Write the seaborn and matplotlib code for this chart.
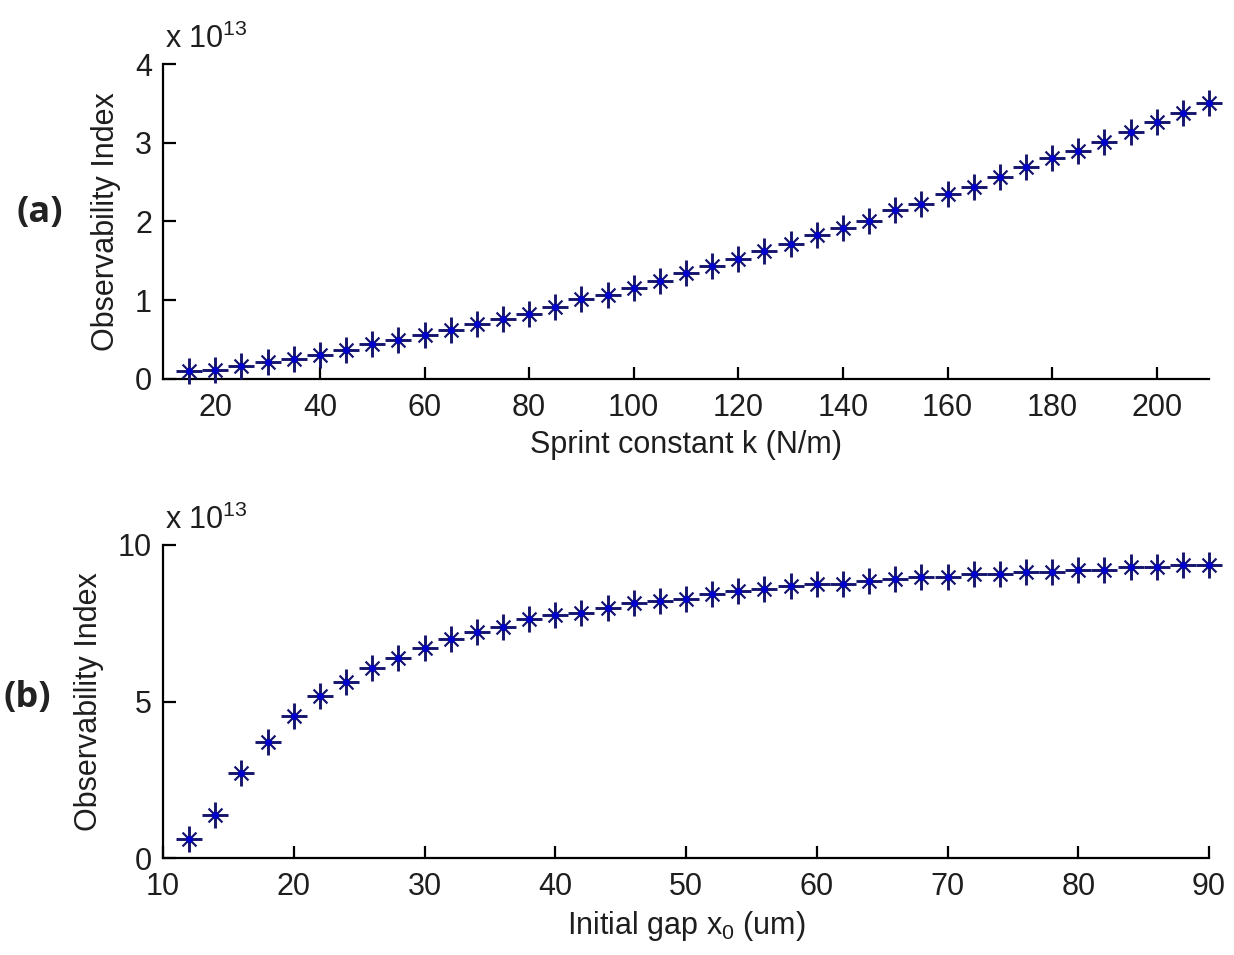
import numpy as np
import matplotlib
matplotlib.use("Agg")
import matplotlib.pyplot as plt
import seaborn as sns

# Panel (a): observability index vs spring constant (values in units of 1e13)
spring_k = [15, 20, 25, 30, 35, 40, 45, 50, 55, 60,
            65, 70, 75, 80, 85, 90, 95, 100, 105, 110,
            115, 120, 125, 130, 135, 140, 145, 150, 155, 160,
            165, 170, 175, 180, 185, 190, 195, 200, 205, 210]
index_k = [0.10, 0.12, 0.16, 0.22, 0.25, 0.31, 0.37, 0.44, 0.50, 0.56,
           0.62, 0.70, 0.76, 0.82, 0.92, 1.01, 1.07, 1.16, 1.25, 1.34,
           1.44, 1.53, 1.62, 1.71, 1.83, 1.92, 2.01, 2.14, 2.22, 2.35,
           2.44, 2.56, 2.69, 2.80, 2.90, 3.01, 3.14, 3.26, 3.38, 3.51]

# Panel (b): observability index vs initial gap (values in units of 1e13)
gap_x0 = [12, 14, 16, 18, 20, 22, 24, 26, 28, 30,
          32, 34, 36, 38, 40, 42, 44, 46, 48, 50,
          52, 54, 56, 58, 60, 62, 64, 66, 68, 70,
          72, 74, 76, 78, 80, 82, 84, 86, 88, 90]
index_gap = [0.60, 1.38, 2.73, 3.72, 4.55, 5.16, 5.63, 6.08, 6.38, 6.70,
             7.01, 7.23, 7.38, 7.62, 7.76, 7.83, 7.99, 8.15, 8.20, 8.29,
             8.43, 8.52, 8.60, 8.68, 8.75, 8.75, 8.84, 8.91, 8.97, 8.97,
             9.07, 9.07, 9.15, 9.15, 9.21, 9.21, 9.29, 9.29, 9.37, 9.37]

EXPONENT = 13
k_ticks = [20, 40, 60, 80, 100, 120, 140, 160, 180, 200]
gap_ticks = [10, 20, 30, 40, 50, 60, 70, 80, 90]

sns.set_style("ticks")
plt.rcParams["font.family"] = ["Liberation Sans", "DejaVu Sans"]
plt.rcParams["mathtext.fontset"] = "custom"
plt.rcParams["mathtext.rm"] = "Liberation Sans"
plt.rcParams["mathtext.it"] = "Liberation Sans"

TEXT = "#1e1e1e"
STAR = "#15156e"
DOT = "#0000cc"
FS = 22

fig = plt.figure(figsize=(12.34, 9.55), dpi=100)
W, H = 1234, 955
ax1 = fig.add_axes([163 / W, 1 - 379 / H, (1209 - 163) / W, (379 - 64) / H])
ax2 = fig.add_axes([163 / W, 1 - 858 / H, (1209 - 163) / W, (858 - 545) / H])


def asterisks(ax, x, y):
    # MATLAB-style '*' marker built from a plus, a cross and a centre dot
    sns.scatterplot(x=x, y=y, ax=ax, marker="+", s=19 ** 2, color=STAR,
                    linewidth=2.1, zorder=3, legend=False, clip_on=False)
    sns.scatterplot(x=x, y=y, ax=ax, marker="x", s=10 ** 2, color=STAR,
                    linewidth=1.6, zorder=3, legend=False, clip_on=False)
    sns.scatterplot(x=x, y=y, ax=ax, marker="o", s=5 ** 2, color=DOT,
                    linewidth=0, zorder=4, legend=False, clip_on=False)


def style(ax, xlim, xticks, ylim, yticks, xlabel):
    ax.set_xlim(*xlim)
    ax.set_ylim(*ylim)
    ax.set_xticks(xticks)
    ax.set_yticks(yticks)
    ax.set_xticklabels([str(t) for t in xticks])
    ax.set_yticklabels([str(t) for t in yticks])
    sns.despine(ax=ax)
    for side in ("left", "bottom"):
        ax.spines[side].set_linewidth(1.6)
        ax.spines[side].set_color("black")
    ax.tick_params(direction="in", length=9, width=1.6, colors="black",
                   labelcolor=TEXT, labelsize=FS)
    ax.tick_params(axis="x", pad=10)
    ax.tick_params(axis="y", pad=8)
    ax.set_xlabel(xlabel, fontsize=FS, color=TEXT, labelpad=5)
    ax.set_ylabel("Observability Index", fontsize=FS, color=TEXT, labelpad=10)
    ax.text(0.002, 1.03, r"x 10$^{%d}$" % EXPONENT, transform=ax.transAxes,
            fontsize=FS, color=TEXT, ha="left", va="bottom")
    ax.set_facecolor("white")


asterisks(ax1, spring_k, index_k)
style(ax1, (10, 210), k_ticks, (0, 4), [0, 1, 2, 3, 4], "Sprint constant k (N/m)")

asterisks(ax2, gap_x0, index_gap)
style(ax2, (10, 90), gap_ticks, (0, 10), [0, 5, 10], r"Initial gap x$_{0}$ (um)")

fig.text(40 / W, 1 - 213 / H, "(a)", fontsize=26, fontweight="bold",
         family=["Open Sans", "DejaVu Sans"], color="#222222", ha="center", va="center")
fig.text(27 / W, 1 - 698 / H, "(b)", fontsize=26, fontweight="bold",
         family=["Open Sans", "DejaVu Sans"], color="#222222", ha="center", va="center")

fig.savefig("out.png", dpi=100, facecolor="white")
